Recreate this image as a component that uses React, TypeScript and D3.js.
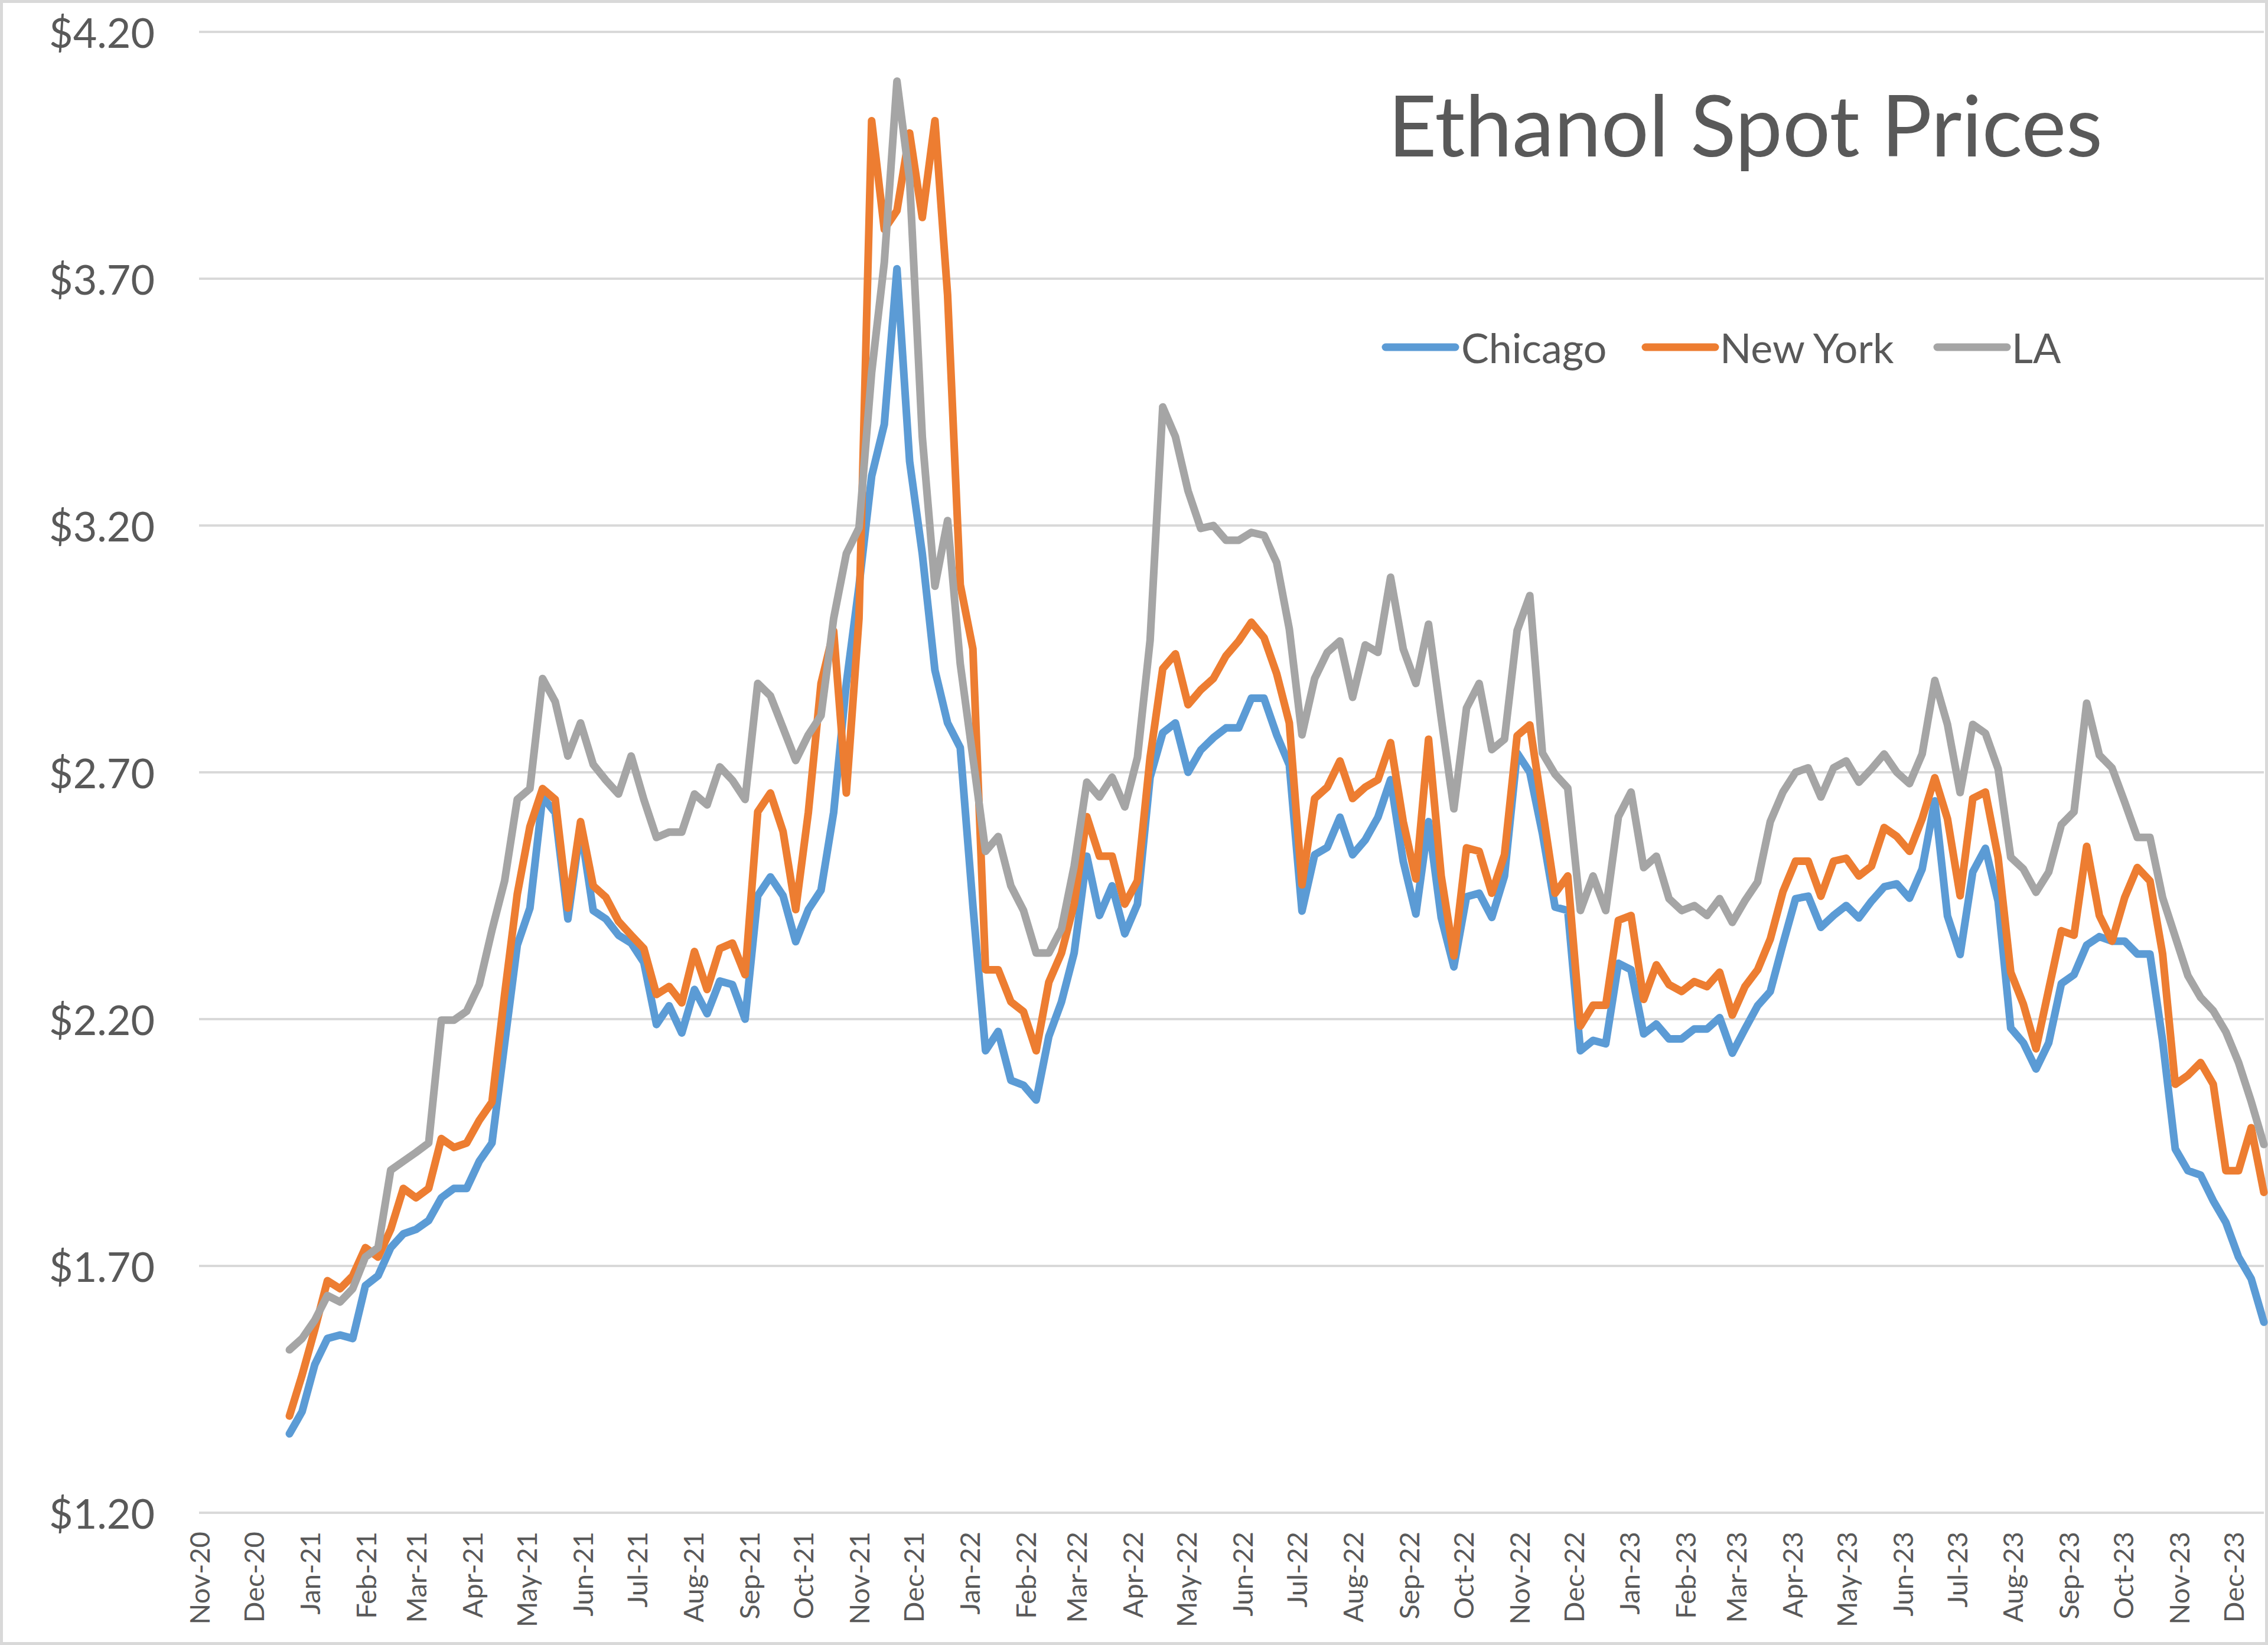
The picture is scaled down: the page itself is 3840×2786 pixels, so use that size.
import * as d3 from "d3";

const W = 3840;
const H = 2786;
const FONT = "Lato, 'Open Sans', sans-serif";
const TEXT = "#595959";
const GRID = "#D9D9D9";

// weekly readings, first week Dec 21 2020
const firstWeek = new Date(2020, 11, 21);
const axisStart = new Date(2020, 10, 1);

const chicago = [
  1.36, 1.405, 1.5, 1.553, 1.56, 1.553, 1.66, 1.68, 1.737, 1.765,
  1.774, 1.792, 1.838, 1.857, 1.857, 1.912, 1.949, 2.15, 2.35, 2.425,
  2.65, 2.618, 2.403, 2.59, 2.42, 2.403, 2.37, 2.354, 2.315, 2.189,
  2.227, 2.172, 2.26, 2.211, 2.277, 2.27, 2.2, 2.45, 2.488, 2.45,
  2.357, 2.422, 2.461, 2.619, 2.88, 3.077, 3.3, 3.405, 3.72, 3.33,
  3.143, 2.907, 2.8, 2.75, 2.43, 2.136, 2.175, 2.076, 2.066, 2.036,
  2.165, 2.235, 2.334, 2.53, 2.41, 2.47, 2.373, 2.433, 2.69, 2.78,
  2.8, 2.7, 2.745, 2.77, 2.79, 2.79, 2.85, 2.85, 2.776, 2.715,
  2.419, 2.533, 2.548, 2.609, 2.533, 2.563, 2.609, 2.685, 2.52, 2.413,
  2.6, 2.406, 2.306, 2.448, 2.455, 2.406, 2.49, 2.739, 2.7, 2.576,
  2.427, 2.42, 2.136, 2.157, 2.15, 2.313, 2.3, 2.17, 2.19, 2.16,
  2.16, 2.18, 2.18, 2.203, 2.131, 2.18, 2.227, 2.256, 2.352, 2.444,
  2.449, 2.386, 2.41, 2.43, 2.405, 2.439, 2.468, 2.474, 2.445, 2.504,
  2.642, 2.409, 2.331, 2.498, 2.546, 2.439, 2.182, 2.152, 2.099, 2.152,
  2.272, 2.29, 2.35, 2.367, 2.358, 2.358, 2.332, 2.332, 2.156, 1.937,
  1.893, 1.884, 1.832, 1.788, 1.718, 1.674, 1.586,
];

const newYork = [
  1.396, 1.479, 1.571, 1.67, 1.654, 1.68, 1.737, 1.718, 1.774, 1.857,
  1.838, 1.857, 1.958, 1.94, 1.949, 1.995, 2.032, 2.25, 2.453, 2.59,
  2.667, 2.645, 2.425, 2.6, 2.47, 2.447, 2.398, 2.37, 2.343, 2.25,
  2.266, 2.233, 2.337, 2.26, 2.343, 2.354, 2.29, 2.62, 2.658, 2.58,
  2.422, 2.619, 2.88, 2.986, 2.658, 3.012, 4.02, 3.8, 3.838, 3.995,
  3.824, 4.02, 3.667, 3.08, 2.95, 2.3, 2.3, 2.235, 2.215, 2.136,
  2.275, 2.334, 2.433, 2.61, 2.53, 2.53, 2.433, 2.48, 2.73, 2.91,
  2.94, 2.837, 2.867, 2.89, 2.936, 2.966, 3.004, 2.973, 2.9, 2.8,
  2.472, 2.647, 2.67, 2.723, 2.647, 2.67, 2.685, 2.76, 2.6, 2.484,
  2.767, 2.49, 2.328, 2.547, 2.54, 2.455, 2.533, 2.774, 2.796, 2.626,
  2.455, 2.49, 2.186, 2.228, 2.228, 2.4, 2.41, 2.24, 2.31, 2.27,
  2.256, 2.276, 2.266, 2.295, 2.208, 2.266, 2.3, 2.362, 2.458, 2.52,
  2.52, 2.449, 2.52, 2.526, 2.49, 2.51, 2.588, 2.57, 2.54, 2.606,
  2.689, 2.606, 2.45, 2.647, 2.66, 2.528, 2.295, 2.23, 2.14, 2.26,
  2.379, 2.37, 2.55, 2.41, 2.358, 2.446, 2.507, 2.48, 2.332, 2.068,
  2.086, 2.112, 2.068, 1.893, 1.893, 1.98, 1.849,
];

const la = [
  1.53, 1.553, 1.59, 1.64, 1.627, 1.654, 1.718, 1.737, 1.894, 1.912,
  1.93, 1.949, 2.198, 2.198, 2.216, 2.27, 2.38, 2.48, 2.645, 2.667,
  2.89, 2.843, 2.733, 2.8, 2.716, 2.684, 2.656, 2.733, 2.645, 2.568,
  2.579, 2.579, 2.656, 2.634, 2.711, 2.684, 2.645, 2.88, 2.855, 2.79,
  2.724, 2.776, 2.815, 3.012, 3.143, 3.195, 3.51, 3.733, 4.1, 3.9,
  3.38, 3.077, 3.21, 2.92, 2.73, 2.54, 2.57, 2.47, 2.42, 2.334,
  2.334, 2.383, 2.51, 2.68, 2.65, 2.69, 2.63, 2.73, 2.967, 3.44,
  3.38, 3.27, 3.194, 3.2, 3.17, 3.17, 3.186, 3.18, 3.125, 2.99,
  2.776, 2.89, 2.943, 2.966, 2.852, 2.958, 2.943, 3.095, 2.95, 2.88,
  3.0, 2.81, 2.626, 2.83, 2.88, 2.746, 2.767, 2.987, 3.058, 2.739,
  2.696, 2.668, 2.42, 2.49, 2.42, 2.61, 2.66, 2.507, 2.53, 2.444,
  2.42, 2.43, 2.41, 2.444, 2.396, 2.44, 2.478, 2.6, 2.66, 2.7,
  2.709, 2.65, 2.709, 2.723, 2.68, 2.707, 2.737, 2.7, 2.677, 2.737,
  2.886, 2.797, 2.659, 2.797, 2.779, 2.707, 2.528, 2.504, 2.457, 2.498,
  2.594, 2.62, 2.84, 2.735, 2.709, 2.64, 2.568, 2.568, 2.446, 2.367,
  2.288, 2.244, 2.217, 2.174, 2.112, 2.033, 1.946,
];

const seriesNames = ["Chicago", "New York", "LA"];
const seriesColors = ["#5B9BD5", "#ED7D31", "#A5A5A5"];
const yTicks = [1.2, 1.7, 2.2, 2.7, 3.2, 3.7, 4.2];

const dates = chicago.map((_, i) => d3.timeDay.offset(firstWeek, i * 7));
const monthTicks = d3.timeMonth.range(axisStart, new Date(2023, 11, 2));

export default function App() {
  const margin = { left: 337, right: 3833, top: 54, bottom: 2562 };

  const x = d3
    .scaleTime()
    .domain([axisStart, dates[dates.length - 1]])
    .range([margin.left, margin.right]);

  const y = d3.scaleLinear().domain([1.2, 4.2]).range([margin.bottom, margin.top]);

  const line = d3
    .line<number>()
    .x((_, i) => x(dates[i]))
    .y((d) => y(d));

  const series = [chicago, newYork, la];
  const fmtY = d3.format("$.2f");
  const fmtX = d3.timeFormat("%b-%y");

  // legend layout
  const legendY = 588;
  const legendItems = [
    { x0: 2346, x1: 2464, tx: 2474 },
    { x0: 2786, x1: 2904, tx: 2912 },
    { x0: 3280, x1: 3398, tx: 3406 },
  ];

  return (
    <svg
      width={W}
      height={H}
      style={{ position: "absolute", left: 0, top: 0, background: "#fff" }}
      fontFamily={FONT}
    >
      <rect x={2.5} y={2.5} width={W - 5} height={H - 5} fill="#fff" stroke={GRID} strokeWidth={5} />

      {/* Grid lines */}
      {yTicks.map((t) => (
        <line key={t} x1={margin.left} x2={margin.right} y1={y(t)} y2={y(t)} stroke={GRID} strokeWidth={4} />
      ))}

      {/* Y labels */}
      {yTicks.map((t) => (
        <text
          key={"yl" + t}
          x={262}
          y={y(t)}
          textAnchor="end"
          dominantBaseline="central"
          fontSize={70}
          fill={TEXT}
        >
          {fmtY(t)}
        </text>
      ))}

      {/* X labels */}
      {monthTicks.map((m) => (
        <text
          key={m.getTime()}
          transform={`translate(${x(m)}, 2594) rotate(-90)`}
          textAnchor="end"
          dominantBaseline="central"
          fontSize={47}
          fill={TEXT}
        >
          {fmtX(m)}
        </text>
      ))}

      {/* Lines */}
      {series.map((s, k) => (
        <path
          key={seriesNames[k]}
          d={line(s) || ""}
          fill="none"
          stroke={seriesColors[k]}
          strokeWidth={13}
          strokeLinejoin="round"
          strokeLinecap="round"
        />
      ))}

      {/* Title */}
      <text x={2350} y={265} fontSize={143} fill={TEXT} textLength={1210}>
        Ethanol Spot Prices
      </text>

      {/* Legend */}
      {legendItems.map((it, k) => (
        <g key={"lg" + k}>
          <line
            x1={it.x0}
            x2={it.x1}
            y1={legendY}
            y2={legendY}
            stroke={seriesColors[k]}
            strokeWidth={13}
            strokeLinecap="round"
          />
          <text x={it.tx} y={legendY} dominantBaseline="central" fontSize={70} fill={TEXT}>
            {seriesNames[k]}
          </text>
        </g>
      ))}
    </svg>
  );
}
